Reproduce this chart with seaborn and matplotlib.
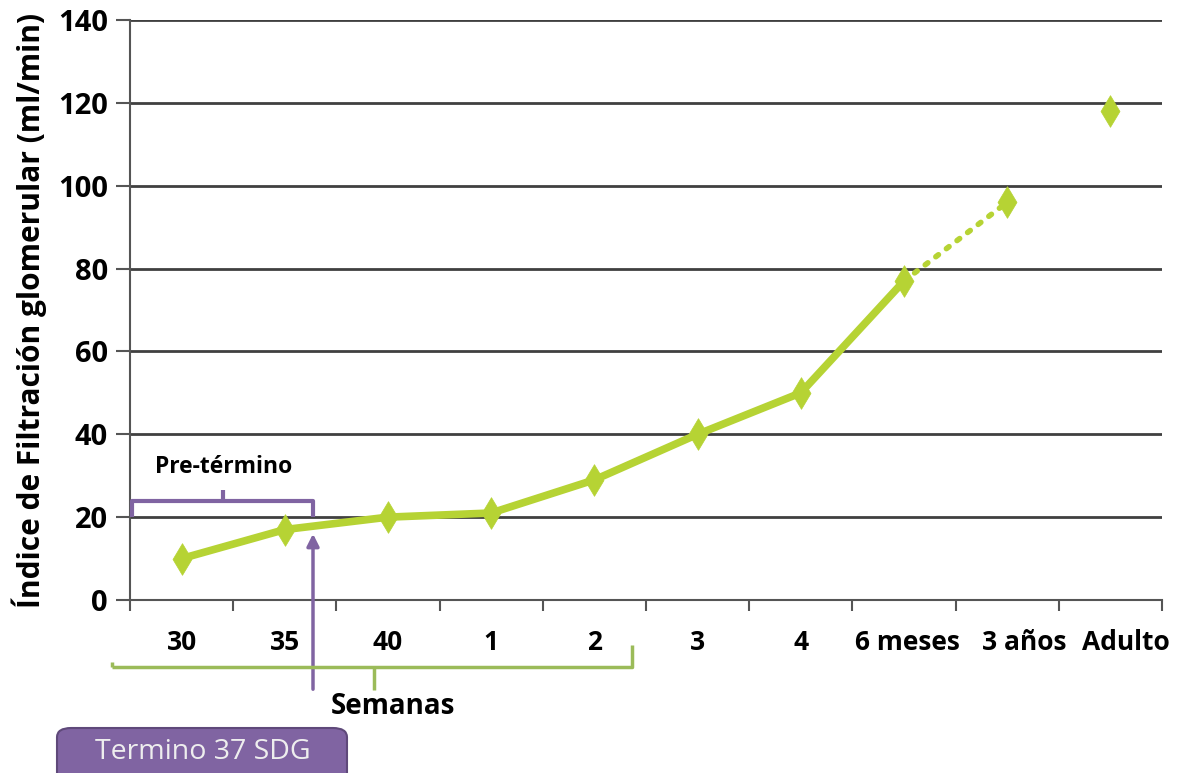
import matplotlib
matplotlib.use("Agg")
import matplotlib.pyplot as plt
from matplotlib.patches import FancyBboxPatch, FancyArrowPatch
from matplotlib.transforms import ScaledTranslation
import seaborn as sns
import pandas as pd

# Glomerular filtration rate by age
categories = ["30", "35", "40", "1", "2", "3", "4", "6 meses", "3 años", "Adulto"]
gfr_values = [10, 17, 20, 21, 29, 40, 50, 77, 96, 118]
y_ticks = [0, 20, 40, 60, 80, 100, 120, 140]

GREEN = "#b6d334"
PURPLE = "#8064a2"
FONT = ["Open Sans", "DejaVu Sans"]

sns.set_theme(style="white")
plt.rcParams["font.family"] = FONT
plt.rcParams["font.weight"] = "bold"

W, H = 1177, 773
fig = plt.figure(figsize=(W / 100, H / 100), dpi=100)
ax = fig.add_axes([130 / W, 1 - 600 / H, 1032 / W, 580 / H])

df = pd.DataFrame({"pos": range(len(categories)), "edad": categories, "tfg": gfr_values})
solid = df.iloc[:8]
dotted = df.iloc[7:9]

sns.lineplot(data=solid, x="pos", y="tfg", ax=ax, color=GREEN, linewidth=5.5,
             solid_capstyle="round", zorder=3)
sns.lineplot(data=dotted, x="pos", y="tfg", ax=ax, color=GREEN, linewidth=4,
             linestyle=(0, (0.6, 1.8)), dash_capstyle="round", zorder=3)
sns.scatterplot(data=df, x="pos", y="tfg", ax=ax, color=GREEN, marker="d", s=260,
                edgecolor=GREEN, linewidth=0.5, zorder=4)

ax.set_xlim(-0.5, len(categories) - 0.5)
ax.set_ylim(0, 140)
ax.set_yticks(y_ticks)
ax.set_yticklabels([str(v) for v in y_ticks], fontsize=21, fontweight="bold", color="black")
ax.set_xticks(range(len(categories)))
ax.set_xticklabels(categories, fontsize=19, fontweight="bold", color="black")
ax.set_xticks([i - 0.5 for i in range(len(categories) + 1)], minor=True)
ax.tick_params(axis="x", which="major", length=0, pad=21)
ax.tick_params(axis="x", which="minor", length=8, width=1.5, color="#555555", bottom=True)
ax.tick_params(axis="y", length=10, width=1.5, color="#555555", left=True, pad=6)

# Nudge the long right-hand labels so they do not collide
label_nudge_px = {"6 meses": 3, "3 años": 17, "Adulto": 15}
for lab in ax.get_xticklabels():
    dx = label_nudge_px.get(lab.get_text(), 0)
    if dx:
        lab.set_transform(lab.get_transform() + ScaledTranslation(dx / 100, 0, fig.dpi_scale_trans))

ax.yaxis.grid(True, color="#404040", linewidth=2)
ax.set_axisbelow(True)
for side in ["top", "right"]:
    ax.spines[side].set_visible(False)
for side in ["left", "bottom"]:
    ax.spines[side].set_color("#555555")
    ax.spines[side].set_linewidth(1.5)

ax.set_xlabel("")
ax.set_ylabel("Índice de Filtración glomerular (ml/min)", fontsize=21.5,
              fontweight="bold", labelpad=8, color="black")


def px(x, y):
    return x / W, 1 - y / H


def fline(xs, ys, color, lw):
    pts = [px(a, b) for a, b in zip(xs, ys)]
    fig.add_artist(plt.Line2D([p[0] for p in pts], [p[1] for p in pts],
                              transform=fig.transFigure, color=color, linewidth=lw,
                              solid_capstyle="butt", solid_joinstyle="round", zorder=6))


# "Pre-término" bracket
fline([132, 132, 313, 313], [517, 501, 501, 517], PURPLE, 3)
fline([223, 223], [501, 490], PURPLE, 3)
fig.text(*px(224, 467), "Pre-término", ha="center", va="center", fontsize=16.5,
         fontweight="bold", color="black")

# Arrow to 37 weeks
fig.add_artist(FancyArrowPatch(
    px(313, 692), px(313, 531), transform=fig.transFigure, arrowstyle="-|>",
    mutation_scale=18, color=PURPLE, linewidth=2.5, zorder=6))

# "Semanas" bracket
fline([112, 632, 632], [667, 667, 645], "#9bbb59", 2.5)
fline([112, 112], [667, 662], "#9bbb59", 2.5)
fline([374, 374], [667, 690], "#9bbb59", 2.5)
fig.text(*px(393, 706), "Semanas", ha="center", va="center", fontsize=20,
         fontweight="bold", color="black")

# "Termino 37 SDG" box
box = FancyBboxPatch(px(57, 790), 290 / W, 62 / H, transform=fig.transFigure,
                     boxstyle="round,pad=0,rounding_size=0.012", facecolor=PURPLE,
                     edgecolor="#5f497a", linewidth=1.5, zorder=6)
fig.add_artist(box)
fig.text(*px(203, 752), "Termino 37 SDG", ha="center", va="center", fontsize=20.5,
         fontweight="normal", color="#eeeeee", zorder=7)

fig.savefig("out.png", dpi=100)
